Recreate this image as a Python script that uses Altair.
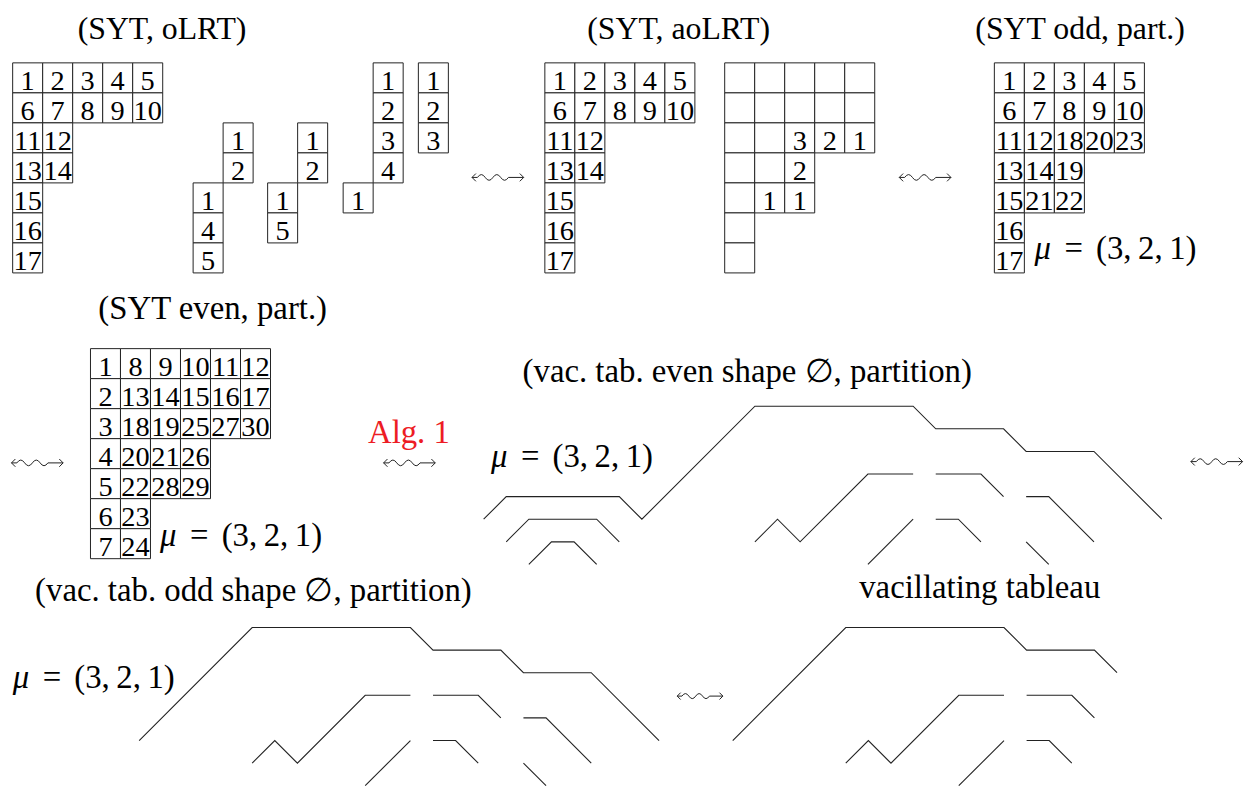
import altair as alt
import pandas as pd

# ---------------- data ----------------
T_OLRT = [["1", "2", "3", "4", "5"], ["6", "7", "8", "9", "10"], ["11", "12"], ["13", "14"],
          ["15"], ["16"], ["17"]]
T_AOLRT = [["1", "2", "3", "4", "5"], ["6", "7", "8", "9", "10"], ["11", "12"], ["13", "14"],
           ["15"], ["16"], ["17"]]
T_AOLRT_PART = [["", "", "", "", ""], ["", "", "", "", ""], ["", "", "3", "2", "1"],
                ["", "", "2"], ["", "1", "1"], [""], [""]]
T_ODD = [["1", "2", "3", "4", "5"], ["6", "7", "8", "9", "10"], ["11", "12", "18", "20", "23"],
         ["13", "14", "19"], ["15", "21", "22"], ["16"], ["17"]]
T_EVEN = [["1", "8", "9", "10", "11", "12"], ["2", "13", "14", "15", "16", "17"],
          ["3", "18", "19", "25", "27", "30"], ["4", "20", "21", "26"], ["5", "22", "28", "29"],
          ["6", "23"], ["7", "24"]]
# skew pieces of the oLRT: (row, col, entry)
S_A = [(2, 1, "1"), (3, 1, "2"), (4, 0, "1"), (5, 0, "4"), (6, 0, "5")]
S_B = [(2, 1, "1"), (3, 1, "2"), (4, 0, "1"), (5, 0, "5")]
S_C = [(0, 1, "1"), (1, 1, "2"), (2, 1, "3"), (3, 1, "4"), (4, 0, "1")]
S_D = [(0, 0, "1"), (1, 0, "2"), (2, 0, "3")]

# vacillating tableaux as row-height paths: (row k, [(step t, row length h), ...])
VT_EVEN = [
    (1, [(0, 0), (1, 1), (6, 1), (7, 0), (12, 5), (19, 5), (20, 4), (23, 4), (24, 3), (27, 3), (30, 0)]),
    (2, [(1, 0), (2, 1), (5, 1), (6, 0)]),
    (2, [(12, 0), (13, 1), (14, 0), (17, 3), (19, 3)]),
    (2, [(20, 3), (22, 3), (23, 2)]),
    (2, [(24, 2), (25, 2), (27, 0)]),
    (3, [(2, 0), (3, 1), (4, 1), (5, 0)]),
    (3, [(17, 0), (19, 2)]),
    (3, [(20, 2), (21, 2), (22, 1)]),
    (3, [(24, 1), (25, 0)]),
]
VT_ODD = [
    (1, [(7, 0), (12, 5), (19, 5), (20, 4), (23, 4), (24, 3), (27, 3), (30, 0)]),
    (2, [(12, 0), (13, 1), (14, 0), (17, 3), (19, 3)]),
    (2, [(20, 3), (22, 3), (23, 2)]),
    (2, [(24, 2), (25, 2), (27, 0)]),
    (3, [(17, 0), (19, 2)]),
    (3, [(20, 2), (21, 2), (22, 1)]),
    (3, [(24, 1), (25, 0)]),
]
VT_FINAL = [
    (1, [(7, 0), (12, 5), (19, 5), (20, 4), (23, 4), (24, 3)]),
    (2, [(12, 0), (13, 1), (14, 0), (17, 3), (19, 3)]),
    (2, [(20, 3), (22, 3), (23, 2)]),
    (3, [(17, 0), (19, 2)]),
    (3, [(20, 2), (21, 2), (22, 1)]),
]

TOP_TITLES = ["(SYT, oLRT)", "(SYT, aoLRT)", "(SYT odd, part.)"]
TITLES = ["(SYT even, part.)",
          "(vac. tab. even shape \u2205, partition)", "(vac. tab. odd shape \u2205, partition)",
          "vacillating tableau"]
MU_LABEL = ["\u03bc", "=", "(3,\u20092,\u20091)"]
ALG_LABEL = "Alg. 1"

# ---------------- layout ----------------
W, H = 1252, 785
CELL = 30.2
U = 22.75
FONT = "Liberation Serif"

tab_layout = [  # (tableau, origin x, origin y)
    (T_OLRT, 12.7, 60.7), (T_AOLRT, 548.3, 60.7), (T_AOLRT_PART, 729.3, 60.7),
    (T_ODD, 1000.7, 60.7), (T_EVEN, 91.0, 348.3),
]
skew_layout = [(S_A, 194.3, 60.7), (S_B, 269.3, 60.7), (S_C, 345.3, 60.7), (S_D, 421.0, 60.7)]
vt_layout = [(VT_EVEN, 486.7, 520.0), (VT_ODD, -19.25, 742.7), (VT_FINAL, 578.15, 742.7)]
top_title_pos = [(163, 36.5), (683, 36.5), (1087, 36.5)]
title_pos = [(214, 318), (752, 382), (255, 602), (986, 599)]
mu_pos = [(1040, 258.3), (160, 546.7), (493, 467.3), (11.7, 689.5)]
arrow_pos = [(501, 176, 52), (931, 176, 52), (37.5, 463.3, 52), (412, 463.3, 52),
             (1224.5, 462, 52), (704.5, 698, 46)]

cells, labels = [], []
for tab, ox, oy in tab_layout:
    for r, row in enumerate(tab):
        for c, v in enumerate(row):
            cells.append(dict(x=ox + c * CELL, x2=ox + (c + 1) * CELL, y=oy + r * CELL, y2=oy + (r + 1) * CELL))
            if v:
                labels.append(dict(x=ox + (c + 0.5) * CELL, y=oy + (r + 1) * CELL - 3.0, t=v))
for sk, ox, oy in skew_layout:
    for r, c, v in sk:
        cells.append(dict(x=ox + c * CELL, x2=ox + (c + 1) * CELL, y=oy + r * CELL, y2=oy + (r + 1) * CELL))
        labels.append(dict(x=ox + (c + 0.5) * CELL, y=oy + (r + 1) * CELL - 3.0, t=v))
df_cells = pd.DataFrame(cells)
df_labels = pd.DataFrame(labels)

pts = []
sid = 0
for vt, ox, oy in vt_layout:
    for k, seg in vt:
        sid += 1
        for i, (t, h) in enumerate(seg):
            pts.append(dict(seg=sid, i=i, x=ox + t * U, y=oy - (h - (k - 1)) * U))
df_paths = pd.DataFrame(pts)

df_top_titles = pd.DataFrame([dict(x=x, y=y, t=t) for t, (x, y) in zip(TOP_TITLES, top_title_pos)])
df_titles = pd.DataFrame([dict(x=x, y=y, t=t) for t, (x, y) in zip(TITLES, title_pos)])
df_mu_it = pd.DataFrame([dict(x=x + 1, y=y, t=MU_LABEL[0]) for x, y in mu_pos])
df_mu_eq = pd.DataFrame([dict(x=x + 40.5, y=y, t=MU_LABEL[1]) for x, y in mu_pos])
df_mu_tuple = pd.DataFrame([dict(x=x + 63, y=y, t=MU_LABEL[2]) for x, y in mu_pos])
df_alg = pd.DataFrame([dict(x=411.5, y=443, t=ALG_LABEL)])
df_arrows = pd.DataFrame([dict(x=x, y=y, s=w * w) for x, y, w in arrow_pos])

xs = alt.Scale(domain=[8, 8 + W], nice=False, zero=False)
ys = alt.Scale(domain=[8, 8 + H], nice=False, zero=False, reverse=True)
X = lambda f: alt.X(f, type="quantitative", scale=xs, axis=None)
Y = lambda f: alt.Y(f, type="quantitative", scale=ys, axis=None)

ARROW = ("M-0.85,-0.15 L-1,0 L-0.85,0.15 M-1,0 L-0.79,0 Q-0.64,-0.22 -0.49,0 Q-0.34,0.22 -0.19,0 "
         "Q-0.04,-0.22 0.11,0 Q0.26,0.22 0.41,0 L1,0 M0.85,-0.15 L1,0 L0.85,0.15")


def text_layer(df, size, align, color="black", style="normal"):
    return alt.Chart(df).mark_text(font=FONT, fontSize=size, align=align, fontStyle=style,
                                   baseline="alphabetic", color=color).encode(
        x=X("x"), y=Y("y"), text="t:N")


cell_layer = alt.Chart(df_cells).mark_rect(fill="white", stroke="#222222", strokeWidth=1).encode(
    x=X("x"), x2="x2", y=Y("y"), y2="y2")
label_layer = text_layer(df_labels, 28.5, "center")
path_layer = alt.Chart(df_paths).mark_line(color="#222222", strokeWidth=1.1).encode(
    x=X("x"), y=Y("y"), detail="seg:N", order="i:Q")
top_title_layer = text_layer(df_top_titles, 32, "center")
title_layer = text_layer(df_titles, 33, "center")
mu_it_layer = text_layer(df_mu_it, 33, "left", style="italic")
mu_eq_layer = text_layer(df_mu_eq, 33, "center")
mu_tuple_layer = text_layer(df_mu_tuple, 33, "left")
alg_layer = text_layer(df_alg, 33, "center", color="#ed1c24")
arrow_layer = alt.Chart(df_arrows).mark_point(shape=ARROW, filled=False, stroke="#222222",
                                              strokeWidth=1, opacity=1).encode(
    x=X("x"), y=Y("y"), size=alt.Size("s:Q", scale=None))

chart = alt.layer(cell_layer, label_layer, path_layer, top_title_layer, title_layer, mu_it_layer,
                  mu_eq_layer, mu_tuple_layer, alg_layer, arrow_layer).properties(
    width=W, height=H, padding=0, autosize="none").configure_view(stroke=None)

chart.save("out.html", embed_options={"renderer": "svg", "actions": False})
